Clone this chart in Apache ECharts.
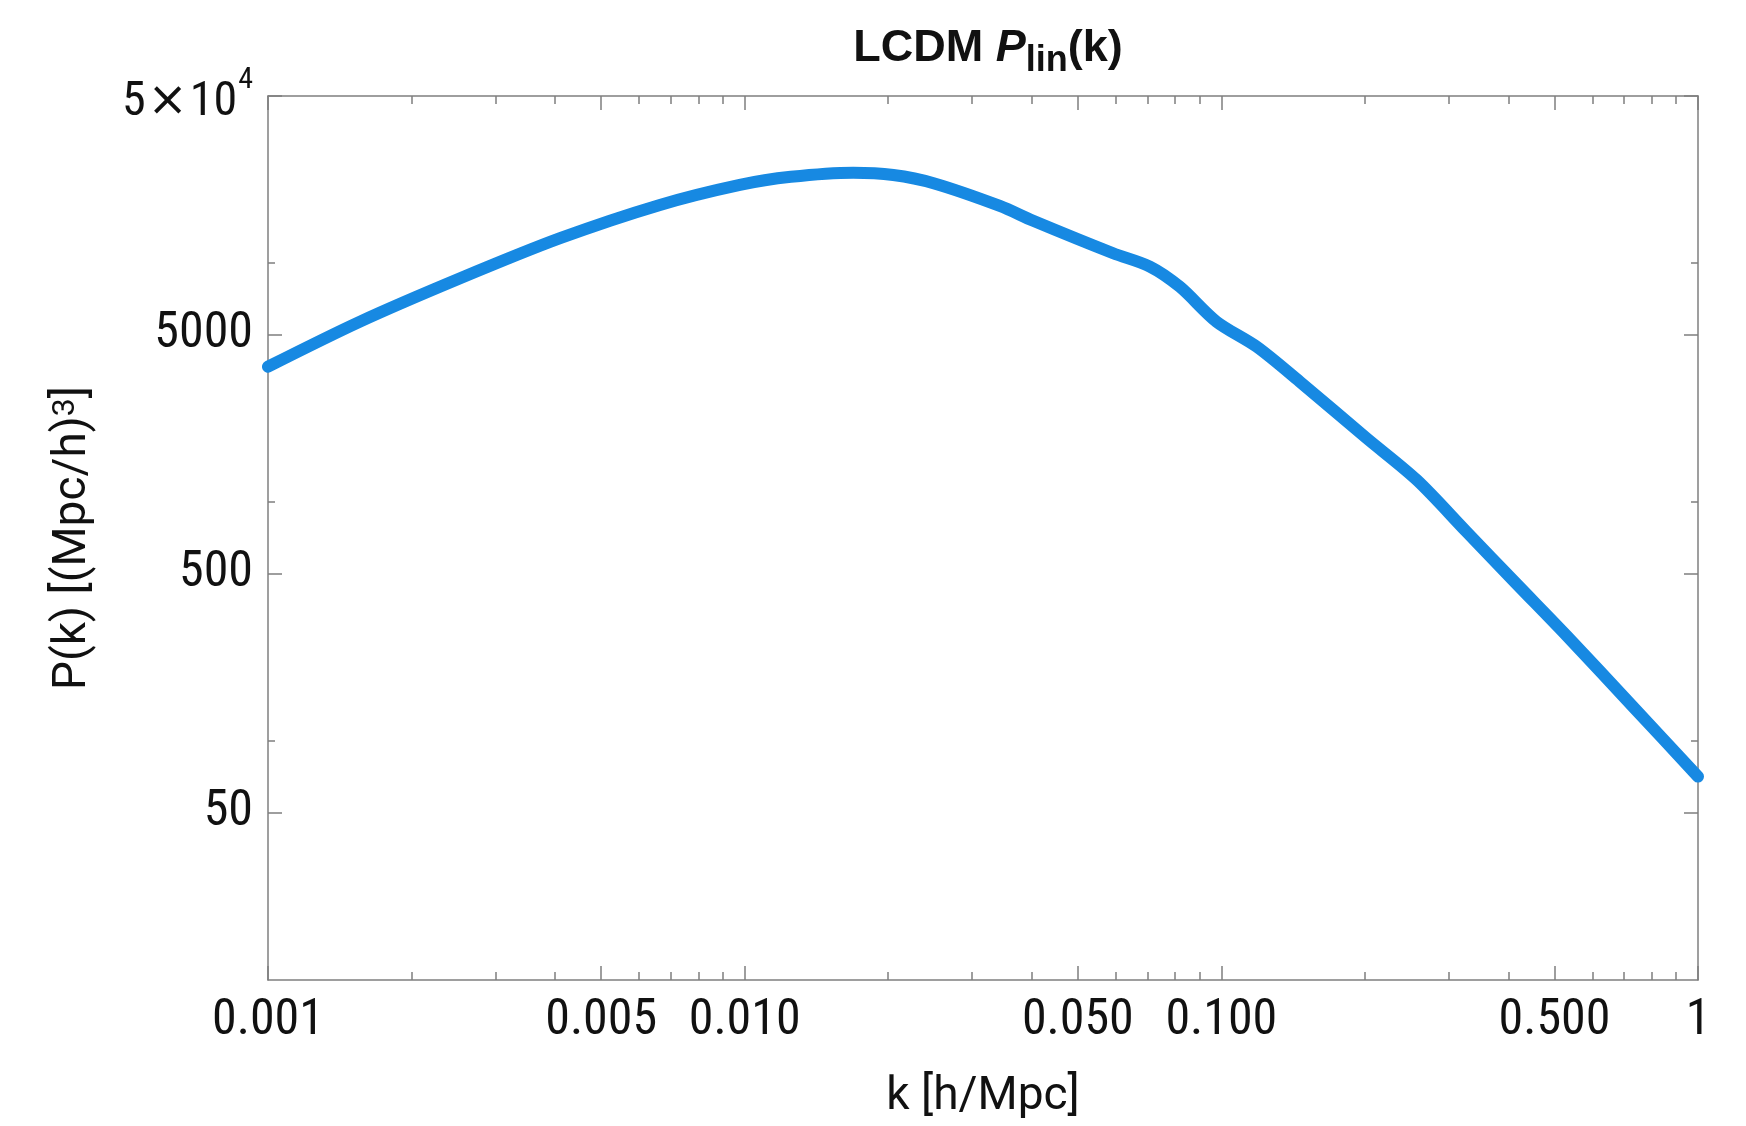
<!DOCTYPE html>
<html>
<head>
<meta charset="utf-8">
<script src="https://cdn.jsdelivr.net/npm/echarts@6/dist/echarts.min.js"></script>
<style>
html,body{margin:0;padding:0;background:#fff;}
#chart{width:1746px;height:1126px;}
</style>
</head>
<body>
<div id="chart"></div>
<script>
// wavenumber k [h/Mpc]
var kValues = [0.001, 0.00156, 0.00253, 0.0041, 0.00664, 0.00977, 0.0125, 0.0169, 0.0205, 0.0249, 0.0343, 0.0403, 0.0593, 0.0708, 0.0818, 0.0977, 0.1186, 0.146, 0.2018, 0.257, 0.327, 0.416, 0.530, 0.731, 1.0];
// linear power spectrum P(k) [(Mpc/h)^3]
var pValues = [3683, 5685, 8630, 12700, 17500, 21230, 22950, 23880, 23350, 21580, 17340, 15030, 10990, 9670, 7960, 5685, 4467, 3190, 1848, 1237, 750, 455, 276, 139, 71];

var xMajorTicks = [0.001, 0.005, 0.01, 0.05, 0.1, 0.5, 1];
var xMajorLabels = ['0.001', '0.005', '0.010', '0.050', '0.100', '0.500', '1'];
var xMinorTicks = [0.002, 0.003, 0.004, 0.006, 0.007, 0.008, 0.009, 0.02, 0.03, 0.04, 0.06, 0.07, 0.08, 0.09, 0.2, 0.3, 0.4, 0.6, 0.7, 0.8, 0.9];
var yMajorTicks = [50, 500, 5000, 50000];
var yMajorLabels = ['50', '500', '5000', '{n|5}{x|×}{n|10}{sup|4}'];
var yMinorTicks = [100, 1000, 10000];

var FRAME = '#7f7f7f';
var TICKFONT = "'Liberation Sans Narrow', 'Roboto Condensed', 'DejaVu Sans Condensed', sans-serif";

var seriesData = kValues.map(function (k, i) { return [k, pValues[i]]; });

function xAx(pos, ticks, len, labels, lineShow) {
  return {
    type: 'log', logBase: 10, min: 0.001, max: 1, position: pos,
    axisLine: { show: lineShow, onZero: false, lineStyle: { color: FRAME, width: 1.5 } },
    axisTick: { show: true, inside: true, length: len, customValues: ticks, lineStyle: { color: FRAME, width: 1.5 } },
    axisLabel: labels ? {
      show: true, customValues: ticks, margin: 16, fontSize: 50, color: '#111', fontFamily: TICKFONT,
      formatter: function (v) {
        for (var i = 0; i < xMajorTicks.length; i++) {
          if (Math.abs(Math.log10(v) - Math.log10(xMajorTicks[i])) < 1e-6) return xMajorLabels[i];
        }
        return '';
      }
    } : { show: false },
    splitLine: { show: false }, minorTick: { show: false }, minorSplitLine: { show: false }
  };
}
function yAx(pos, ticks, len, labels, lineShow) {
  return {
    type: 'log', logBase: 10, min: 10, max: 50000, position: pos,
    axisLine: { show: lineShow, onZero: false, lineStyle: { color: FRAME, width: 1.5 } },
    axisTick: { show: true, inside: true, length: len, customValues: ticks, lineStyle: { color: FRAME, width: 1.5 } },
    axisLabel: labels ? {
      show: true, customValues: ticks, margin: 15, fontSize: 50, color: '#111', fontFamily: TICKFONT,
      formatter: function (v) {
        for (var i = 0; i < yMajorTicks.length; i++) {
          if (Math.abs(Math.log10(v) - Math.log10(yMajorTicks[i])) < 1e-6) return yMajorLabels[i];
        }
        return '';
      },
      rich: {
        n: { fontSize: 48, fontFamily: TICKFONT, color: '#111', padding: [14, 0, 0, 0] },
        x: { fontSize: 48, fontFamily: 'DejaVu Sans', color: '#111', padding: [14, 2, 0, 2] },
        sup: { fontSize: 30, fontFamily: TICKFONT, color: '#111', verticalAlign: 'top', padding: [0, 0, 0, 1] }
      }
    } : { show: false },
    splitLine: { show: false }, minorTick: { show: false }, minorSplitLine: { show: false }
  };
}

var xAxes = [
  xAx('bottom', xMajorTicks, 14, true, true),
  xAx('bottom', xMinorTicks, 8, false, false),
  xAx('top', xMajorTicks, 14, false, true),
  xAx('top', xMinorTicks, 8, false, false)
];
xAxes[0].name = 'k [h/Mpc]';
xAxes[0].nameLocation = 'middle';
xAxes[0].nameGap = 94;
xAxes[0].nameTextStyle = { fontSize: 46, fontFamily: 'Roboto', color: '#111' };

var yAxes = [
  yAx('left', yMajorTicks, 14, true, true),
  yAx('left', yMinorTicks, 7, false, false),
  yAx('right', yMajorTicks, 14, false, true),
  yAx('right', yMinorTicks, 7, false, false)
];
yAxes[0].name = 'P(k) [(Mpc/h){s|3}]';
yAxes[0].nameLocation = 'middle';
yAxes[0].nameRotate = 90;
yAxes[0].nameGap = 172;
yAxes[0].nameTextStyle = {
  fontSize: 46, fontFamily: 'Roboto', color: '#111',
  rich: { s: { fontSize: 32, fontFamily: 'Roboto', color: '#111', verticalAlign: 'top' } }
};

var TITLEFONT = "'Liberation Sans', Arial, sans-serif";
var chart = echarts.init(document.getElementById('chart'), null, { renderer: 'canvas' });
chart.setOption({
  animation: false,
  backgroundColor: '#ffffff',
  title: {
    text: '{b|LCDM }{p|P}{s|lin}{b|(k)}',
    left: 983, top: 14, textAlign: 'center',
    textStyle: {
      rich: {
        b: { fontSize: 45, fontWeight: 'bold', fontFamily: TITLEFONT, color: '#111', lineHeight: 60, verticalAlign: 'middle' },
        p: { fontSize: 45, fontWeight: 'bold', fontStyle: 'italic', fontFamily: TITLEFONT, color: '#111', lineHeight: 60, verticalAlign: 'middle' },
        s: { fontSize: 36, fontWeight: 'bold', fontFamily: TITLEFONT, color: '#111', lineHeight: 36, verticalAlign: 'bottom' }
      }
    }
  },
  grid: { left: 268, right: 48, top: 96, bottom: 146, containLabel: false },
  xAxis: xAxes,
  yAxis: yAxes,
  series: [{
    type: 'line',
    xAxisIndex: 0, yAxisIndex: 0,
    data: seriesData,
    smooth: 0.3,
    showSymbol: false,
    symbol: 'none',
    lineStyle: { color: '#1789e2', width: 12, cap: 'round', join: 'round' },
    clip: true
  }]
});
</script>
</body>
</html>
